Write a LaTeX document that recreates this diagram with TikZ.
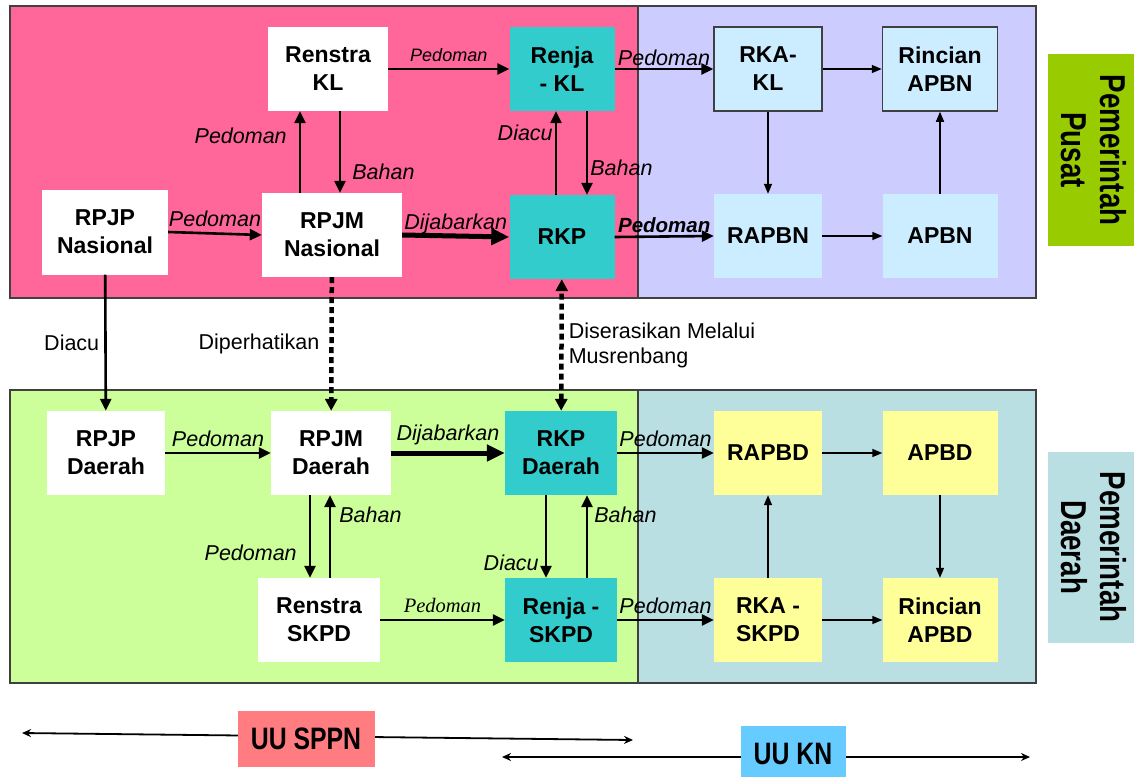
\documentclass[tikz,border=0pt]{standalone}
\usepackage{fontspec}
\setmainfont{Liberation Sans}
\newfontfamily\sidefont[FakeStretch=0.77]{Liberation Sans}
\newfontfamily\lawfont[FakeStretch=0.8]{Liberation Sans}
\newfontfamily\seriffont{Liberation Serif}
\usetikzlibrary{arrows.meta, positioning, calc}
\definecolor{pusatpink}{HTML}{FF6699}
\definecolor{pusatlilac}{HTML}{CCCCFF}
\definecolor{daerahgreen}{HTML}{CCFF99}
\definecolor{daerahgrey}{HTML}{BADFE3}
\definecolor{rkpteal}{HTML}{33CCCC}
\definecolor{apbnblue}{HTML}{CCECFF}
\definecolor{apbdyellow}{HTML}{FFFF99}
\definecolor{sidegreen}{HTML}{99CC00}
\definecolor{sppnred}{HTML}{FF7C80}
\definecolor{knblue}{HTML}{66CCFF}
\definecolor{edgegray}{HTML}{404040}

\begin{document}
\begin{tikzpicture}[x=1pt, y=-1pt,
        panel/.style={draw=edgegray, line width=1.5pt},
        doc/.style={rectangle, minimum height=84pt, align=center, inner sep=0pt, font=\bfseries\fontsize{23}{28}\selectfont},
        framed/.style={draw=edgegray, line width=1.5pt},
        sidebox/.style={rectangle, rotate=-90, minimum width=191pt, minimum height=92pt, inner sep=0pt, align=center, font=\sidefont\bfseries\fontsize{36}{39}\selectfont},
        lawbox/.style={rectangle, minimum height=56pt, inner sep=0pt, font=\lawfont\bfseries\fontsize{31}{34}\selectfont},
        arrow/.style={-{Triangle[length=12pt,width=11pt]}, line width=2.6pt},
        thinarrow/.style={-{Triangle[length=10pt,width=8pt]}, line width=1.4pt},
        bigarrow/.style={-{Triangle[length=18pt,width=16pt]}, line width=5pt},
        dotarrow/.style={-{Triangle[length=12pt,width=12pt]}, line width=4.5pt, dash pattern=on 6pt off 4pt},
        lawarrow/.style={{Stealth[length=9pt,width=8pt]}-{Stealth[length=9pt,width=8pt]}, line width=1.8pt},
        lbl/.style={font=\itshape\fontsize{21.5}{24}\selectfont, inner sep=2pt},
        plainlbl/.style={font=\fontsize{21.5}{25}\selectfont, inner sep=2pt, align=left}
    ]
        \useasboundingbox (0,0) rectangle (1134,776);

        % panels
        \draw[panel, fill=pusatpink] (10,6) rectangle (638,298);
        \draw[panel, fill=pusatlilac] (638,6) rectangle (1036,298);
        \draw[panel, fill=daerahgreen] (10,390) rectangle (638,683);
        \draw[panel, fill=daerahgrey] (638,390) rectangle (1036,683);

        % pemerintah pusat
        \node[doc, fill=white, minimum width=120pt] (renstrakl) at (328,69) {Renstra\\KL};
        \node[doc, fill=rkpteal, minimum width=105pt] (renjakl) at (562,69) {Renja\\- KL};
        \node[doc, fill=apbnblue, framed, minimum width=108pt] (rkakl) at (768,69) {RKA-\\KL};
        \node[doc, fill=apbnblue, framed, minimum width=115pt] (rincianapbn) at (940,69) {Rincian\\APBN};
        \node[doc, fill=white, minimum width=126pt, minimum height=85pt] (rpjpnas) at (105,232) {RPJP\\Nasional};
        \node[doc, fill=white, minimum width=140pt] (rpjmnas) at (332,235) {RPJM\\Nasional};
        \node[doc, fill=rkpteal, minimum width=105pt] (rkp) at (562,237) {RKP};
        \node[doc, fill=apbnblue, minimum width=108pt] (rapbn) at (768,236) {RAPBN};
        \node[doc, fill=apbnblue, minimum width=115pt] (apbn) at (940,236) {APBN};

        % pemerintah daerah
        \node[doc, fill=white, minimum width=118pt] (rpjpdaerah) at (106,453) {RPJP\\Daerah};
        \node[doc, fill=white, minimum width=120pt] (rpjmdaerah) at (331,453) {RPJM\\Daerah};
        \node[doc, fill=rkpteal, minimum width=112pt] (rkpdaerah) at (561,453) {RKP\\Daerah};
        \node[doc, fill=apbdyellow, minimum width=108pt] (rapbd) at (768,453) {RAPBD};
        \node[doc, fill=apbdyellow, minimum width=115pt] (apbd) at (940,453) {APBD};
        \node[doc, fill=white, minimum width=122pt] (renstraskpd) at (319,620) {Renstra\\SKPD};
        \node[doc, fill=rkpteal, minimum width=112pt] (renjaskpd) at (561,620) {Renja -\\SKPD};
        \node[doc, fill=apbdyellow, minimum width=108pt] (rkaskpd) at (768,620) {RKA -\\SKPD};
        \node[doc, fill=apbdyellow, minimum width=115pt] (rincianapbd) at (940,620) {Rincian\\APBD};

        % side labels
        \node[sidebox, fill=sidegreen] (pusat) at (1094,150) {Pemerintah\\Pusat};
        \node[sidebox, fill=daerahgrey] (daerah) at (1094,547) {Pemerintah\\Daerah};

        % top arrows
        \draw[arrow] (renstrakl.east) -- node[above=6pt, inner sep=0pt, font=\itshape\fontsize{18}{20}\selectfont] {Pedoman} (renjakl.west);
        \draw[arrow] (renjakl.east) -- node[lbl, above] {Pedoman} (rkakl.west);
        \draw[thinarrow] (rkakl) -- (rincianapbn);
        \draw[thinarrow] (rkakl) -- (rapbn);
        \draw[thinarrow] (apbn) -- (rincianapbn);
        \draw[thinarrow] (rapbn) -- (apbn);
        \draw[arrow] (rkp.east) -- node[lbl, above, font=\bfseries\itshape\fontsize{20.5}{24}\selectfont] {Pedoman} (rapbn.west);
        \draw[arrow] (rpjpnas.east) -- node[lbl, above=3pt] {Pedoman} (rpjmnas.west);
        \draw[bigarrow] (rpjmnas.east) -- node[lbl, above, inner sep=0pt] {Dijabarkan} (rkp.west);
        \draw[arrow] ([xshift=-32pt]rpjmnas.north) -- node[lbl, left=10pt, pos=0.7] {Pedoman} ([xshift=-32pt]rpjmnas.north |- renstrakl.south);
        \draw[arrow] ([xshift=12pt]renstrakl.south) -- node[lbl, right=9pt, pos=0.74] {Bahan} ([xshift=12pt]renstrakl.south |- rpjmnas.north);
        \draw[arrow] ([xshift=-6pt]rkp.north) -- node[lbl, left, pos=0.74] {Diacu} ([xshift=-6pt]rkp.north |- renjakl.south);
        \draw[arrow] ([xshift=25pt]renjakl.south) -- node[lbl, right, pos=0.68] {Bahan} ([xshift=25pt]renjakl.south |- rkp.north);

        % between the panels
        \draw[arrow] (rpjpnas) -- node[plainlbl, left=3pt] {Diacu} (rpjpdaerah);
        \draw[dotarrow] (rpjmnas) -- node[plainlbl, left=8pt] {Diperhatikan} (rpjmdaerah);
        \draw[dotarrow, {Triangle[length=12pt,width=12pt]}-{Triangle[length=12pt,width=12pt]}] (rkpdaerah) -- node[plainlbl, right=3pt] {Diserasikan Melalui\\Musrenbang} (rkp);

        % bottom arrows
        \draw[arrow] (rpjpdaerah.east) -- node[lbl, above=3pt] {Pedoman} (rpjmdaerah.west);
        \draw[bigarrow] (rpjmdaerah.east) -- node[lbl, above=6pt, inner sep=0pt] {Dijabarkan} (rkpdaerah.west);
        \draw[arrow] (rkpdaerah.east) -- node[lbl, above=3pt] {Pedoman} (rapbd.west);
        \draw[thinarrow] (rapbd) -- (apbd);
        \draw[thinarrow] (apbd) -- (rincianapbd);
        \draw[thinarrow] (rkaskpd) -- (rapbd);
        \draw[thinarrow] (rkaskpd) -- (rincianapbd);
        \draw[arrow] (renstraskpd.east) -- node[above=6pt, inner sep=0pt, font=\seriffont\itshape\fontsize{20.5}{24}\selectfont] {Pedoman} (renjaskpd.west);
        \draw[arrow] (renjaskpd.east) -- node[lbl, above=3pt] {Pedoman} (rkaskpd.west);
        \draw[arrow] ([xshift=-21pt]rpjmdaerah.south) -- node[lbl, left=10pt, pos=0.7] {Pedoman} ([xshift=-21pt]rpjmdaerah.south |- renstraskpd.north);
        \draw[arrow] ([xshift=11pt]renstraskpd.north) -- node[lbl, right=6pt, pos=0.76] {Bahan} ([xshift=11pt]renstraskpd.north |- rpjmdaerah.south);
        \draw[arrow] ([xshift=-15pt]rkpdaerah.south) -- node[lbl, left=4pt, pos=0.82] {Diacu} ([xshift=-15pt]rkpdaerah.south |- renjaskpd.north);
        \draw[arrow] ([xshift=26pt]renjaskpd.north) -- node[lbl, right=4pt, pos=0.76] {Bahan} ([xshift=26pt]renjaskpd.north |- rkpdaerah.south);

        % undang-undang
        \coordinate (sppnleft) at (22,733);
        \coordinate (sppnright) at (633,740);
        \coordinate (knleft) at (502,757);
        \coordinate (knright) at (1030,757);
        \draw[lawarrow] (sppnleft) -- (sppnright);
        \draw[lawarrow] (knleft) -- (knright);
        \node[lawbox, fill=sppnred, minimum width=137pt] (uusppn) at (306,739) {UU SPPN};
        \node[lawbox, fill=knblue, minimum width=105pt] (uukn) at (793,754) {UU KN};
    \end{tikzpicture}
\end{document}
